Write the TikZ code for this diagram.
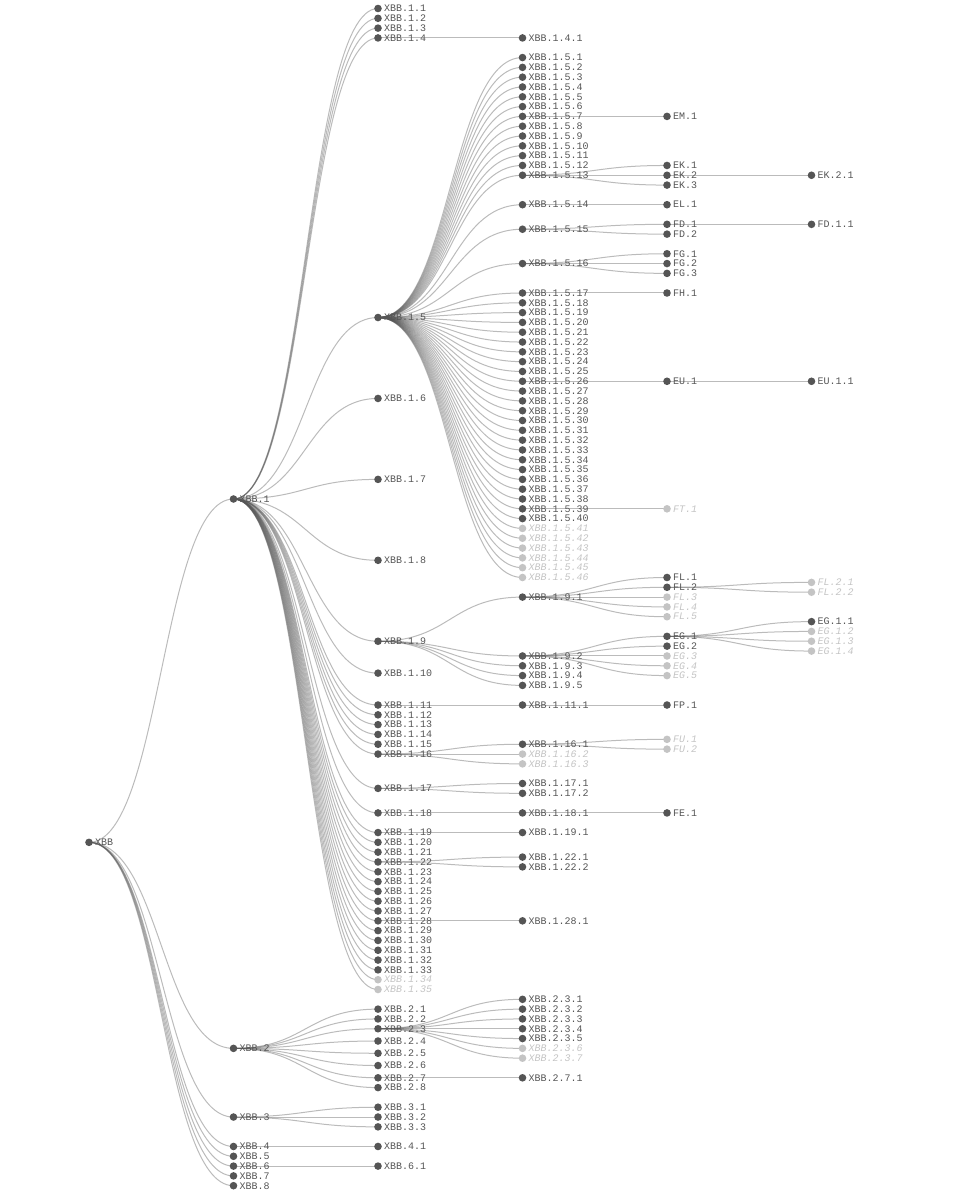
\documentclass[tikz,border=0pt]{standalone}
\usepackage{fontspec}
\newfontfamily\mono{Liberation Mono}
\pgfdeclarelayer{bg}
\pgfsetlayers{bg,main}
\definecolor{cd}{HTML}{555555}
\definecolor{cl}{HTML}{C4C4C4}
% name, parent, depth, k (row), label, kind (d = dark, l = light)
\newcommand\T[6]{%
  \node[#6node] (#1) at ({89+144.5*(#3)},{8.5+9.81*(#4)}) {};
  \node[#6lab] (#1-t) at ([xshift=6]#1.center) {#5};
  \begin{pgfonlayer}{bg}
    \draw[link] (#2.center) .. controls +(72.25,0) and +(-72.25,0) .. (#1.center);
  \end{pgfonlayer}%
}
\begin{document}
\begin{tikzpicture}[x=1pt,y=-1pt,
  dnode/.style={circle,fill=cd,inner sep=0,minimum size=7.6pt},
  lnode/.style={circle,fill=cl,inner sep=0,minimum size=7.6pt},
  dlab/.style={anchor=west,inner sep=0,text=cd,font=\mono\fontsize{10}{10}\selectfont},
  llab/.style={anchor=west,inner sep=0,text=cl,font=\mono\itshape\fontsize{10}{10}\selectfont},
  link/.style={draw=cd,draw opacity=0.4,line width=1pt}]
\useasboundingbox (0,0) rectangle (954,1200);
% root
\node[dnode] (r) at (89,{8.5+9.81*85}) {};
\node[dlab] (r-t) at ([xshift=6]r.center) {XBB};
% depth 1
\T{b1}{r}{1}{50}{XBB.1}{d}
\T{b2}{r}{1}{106}{XBB.2}{d}
\T{b3}{r}{1}{113}{XBB.3}{d}
\T{b4}{r}{1}{116}{XBB.4}{d}
\T{b5}{r}{1}{117}{XBB.5}{d}
\T{b6}{r}{1}{118}{XBB.6}{d}
\T{b7}{r}{1}{119}{XBB.7}{d}
\T{b8}{r}{1}{120}{XBB.8}{d}
% depth 2
\foreach \i/\k in {1/0,2/1,3/2,4/3,5/31.5,6/39.75,7/48,8/56.25,9/64.5,10/67.75,11/71,12/72,13/73,14/74,15/75,16/76,17/79.5,18/82}
  {\T{b1-\i}{b1}{2}{\k}{XBB.1.\i}{d}}
\foreach \i in {19,...,33} {\T{b1-\i}{b1}{2}{65+\i}{XBB.1.\i}{d}}
\T{b1-34}{b1}{2}{99}{XBB.1.34}{l}
\T{b1-35}{b1}{2}{100}{XBB.1.35}{l}
\foreach \i/\k in {1/102,2/103,3/104,4/105.25,5/106.5,6/107.75,7/109,8/110}
  {\T{b2-\i}{b2}{2}{\k}{XBB.2.\i}{d}}
\foreach \i in {1,2,3} {\T{b3-\i}{b3}{2}{111+\i}{XBB.3.\i}{d}}
\T{b4-1}{b4}{2}{116}{XBB.4.1}{d}
\T{b6-1}{b6}{2}{118}{XBB.6.1}{d}
% depth 3
\T{b1-4-1}{b1-4}{3}{3}{XBB.1.4.1}{d}
\foreach \i in {1,...,13} {\T{b1-5-\i}{b1-5}{3}{4+\i}{XBB.1.5.\i}{d}}
\T{b1-5-14}{b1-5}{3}{20}{XBB.1.5.14}{d}
\T{b1-5-15}{b1-5}{3}{22.5}{XBB.1.5.15}{d}
\T{b1-5-16}{b1-5}{3}{26}{XBB.1.5.16}{d}
\foreach \i in {17,...,40} {\T{b1-5-\i}{b1-5}{3}{12+\i}{XBB.1.5.\i}{d}}
\foreach \i in {41,...,46} {\T{b1-5-\i}{b1-5}{3}{12+\i}{XBB.1.5.\i}{l}}
\foreach \i/\k in {1/60,2/66,3/67,4/68,5/69} {\T{b1-9-\i}{b1-9}{3}{\k}{XBB.1.9.\i}{d}}
\T{b1-11-1}{b1-11}{3}{71}{XBB.1.11.1}{d}
\T{b1-16-1}{b1-16}{3}{75}{XBB.1.16.1}{d}
\T{b1-16-2}{b1-16}{3}{76}{XBB.1.16.2}{l}
\T{b1-16-3}{b1-16}{3}{77}{XBB.1.16.3}{l}
\T{b1-17-1}{b1-17}{3}{79}{XBB.1.17.1}{d}
\T{b1-17-2}{b1-17}{3}{80}{XBB.1.17.2}{d}
\T{b1-18-1}{b1-18}{3}{82}{XBB.1.18.1}{d}
\T{b1-19-1}{b1-19}{3}{84}{XBB.1.19.1}{d}
\T{b1-22-1}{b1-22}{3}{86.5}{XBB.1.22.1}{d}
\T{b1-22-2}{b1-22}{3}{87.5}{XBB.1.22.2}{d}
\T{b1-28-1}{b1-28}{3}{93}{XBB.1.28.1}{d}
\foreach \i in {1,...,5} {\T{b2-3-\i}{b2-3}{3}{100+\i}{XBB.2.3.\i}{d}}
\T{b2-3-6}{b2-3}{3}{106}{XBB.2.3.6}{l}
\T{b2-3-7}{b2-3}{3}{107}{XBB.2.3.7}{l}
\T{b2-7-1}{b2-7}{3}{109}{XBB.2.7.1}{d}
% depth 4
\T{EM1}{b1-5-7}{4}{11}{EM.1}{d}
\T{EK1}{b1-5-13}{4}{16}{EK.1}{d}
\T{EK2}{b1-5-13}{4}{17}{EK.2}{d}
\T{EK3}{b1-5-13}{4}{18}{EK.3}{d}
\T{EL1}{b1-5-14}{4}{20}{EL.1}{d}
\T{FD1}{b1-5-15}{4}{22}{FD.1}{d}
\T{FD2}{b1-5-15}{4}{23}{FD.2}{d}
\T{FG1}{b1-5-16}{4}{25}{FG.1}{d}
\T{FG2}{b1-5-16}{4}{26}{FG.2}{d}
\T{FG3}{b1-5-16}{4}{27}{FG.3}{d}
\T{FH1}{b1-5-17}{4}{29}{FH.1}{d}
\T{EU1}{b1-5-26}{4}{38}{EU.1}{d}
\T{FT1}{b1-5-39}{4}{51}{FT.1}{l}
\T{FL1}{b1-9-1}{4}{58}{FL.1}{d}
\T{FL2}{b1-9-1}{4}{59}{FL.2}{d}
\T{FL3}{b1-9-1}{4}{60}{FL.3}{l}
\T{FL4}{b1-9-1}{4}{61}{FL.4}{l}
\T{FL5}{b1-9-1}{4}{62}{FL.5}{l}
\T{EG1}{b1-9-2}{4}{64}{EG.1}{d}
\T{EG2}{b1-9-2}{4}{65}{EG.2}{d}
\T{EG3}{b1-9-2}{4}{66}{EG.3}{l}
\T{EG4}{b1-9-2}{4}{67}{EG.4}{l}
\T{EG5}{b1-9-2}{4}{68}{EG.5}{l}
\T{FP1}{b1-11-1}{4}{71}{FP.1}{d}
\T{FU1}{b1-16-1}{4}{74.5}{FU.1}{l}
\T{FU2}{b1-16-1}{4}{75.5}{FU.2}{l}
\T{FE1}{b1-18-1}{4}{82}{FE.1}{d}
% depth 5
\T{EK2-1}{EK2}{5}{17}{EK.2.1}{d}
\T{FD1-1}{FD1}{5}{22}{FD.1.1}{d}
\T{EU1-1}{EU1}{5}{38}{EU.1.1}{d}
\T{FL2-1}{FL2}{5}{58.5}{FL.2.1}{l}
\T{FL2-2}{FL2}{5}{59.5}{FL.2.2}{l}
\T{EG1-1}{EG1}{5}{62.5}{EG.1.1}{d}
\T{EG1-2}{EG1}{5}{63.5}{EG.1.2}{l}
\T{EG1-3}{EG1}{5}{64.5}{EG.1.3}{l}
\T{EG1-4}{EG1}{5}{65.5}{EG.1.4}{l}
\end{tikzpicture}
\end{document}
